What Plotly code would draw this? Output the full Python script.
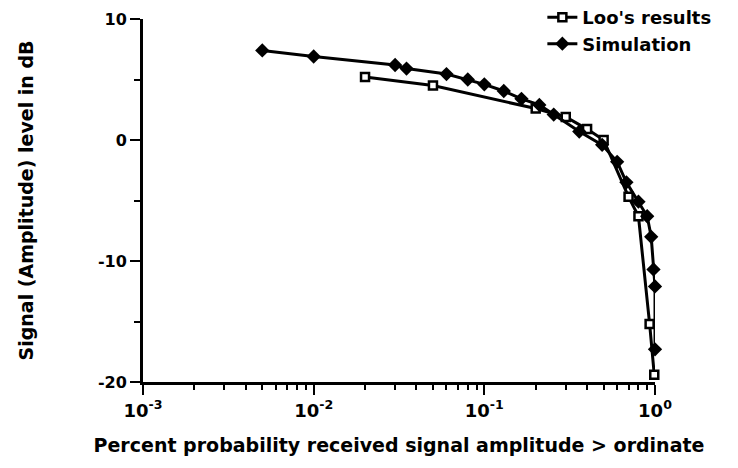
import plotly.graph_objects as go

# Loo's model: probability that the received amplitude exceeds the ordinate
loo_prob = [0.02, 0.05, 0.2, 0.3, 0.4, 0.5, 0.7, 0.8, 0.93, 0.99]
loo_db = [5.2, 4.5, 2.6, 1.9, 0.9, 0.0, -4.7, -6.3, -15.2, -19.4]

# Simulated channel
sim_prob = [0.005, 0.01, 0.03, 0.035, 0.06, 0.08, 0.1, 0.13, 0.165, 0.21,
            0.255, 0.36, 0.49, 0.6, 0.68, 0.8, 0.9, 0.95, 0.98, 1.0, 1.0]
sim_db = [7.4, 6.9, 6.2, 5.9, 5.45, 5.0, 4.6, 4.05, 3.4, 2.9,
          2.1, 0.7, -0.4, -1.8, -3.5, -5.1, -6.3, -8.0, -10.7, -12.1, -17.3]

x_tickvals = [0.001, 0.01, 0.1, 1]
x_ticktext = ["10<sup>-3</sup>", "10<sup>-2</sup>", "10<sup>-1</sup>", "10<sup>0</sup>"]
y_tickvals = [-20, -10, 0, 10]
y_ticktext = ["-20", "-10", "0", "10"]

FONT = "DejaVu Sans"

fig = go.Figure()
fig.add_trace(go.Scatter(
    x=loo_prob, y=loo_db, mode="lines+markers", name="Loo's results",
    line=dict(color="black", width=3),
    marker=dict(symbol="square", size=8, color="white",
                line=dict(color="black", width=2.5)),
    cliponaxis=False,
))
fig.add_trace(go.Scatter(
    x=sim_prob, y=sim_db, mode="lines+markers", name="Simulation",
    line=dict(color="black", width=3),
    marker=dict(symbol="diamond", size=11, color="black"),
    cliponaxis=False,
))

fig.update_layout(
    width=738, height=468,
    margin=dict(l=143, r=83, t=19, b=86, autoexpand=False),
    paper_bgcolor="white", plot_bgcolor="white",
    font=dict(family=FONT, color="black", size=16, weight="bold"),
    showlegend=True,
    legend=dict(x=0.78, xanchor="left", y=1.055, yanchor="top",
                font=dict(size=18, weight="bold"), bgcolor="rgba(0,0,0,0)",
                tracegroupgap=0, itemwidth=30),
)

fig.update_xaxes(
    type="log", range=[-3, 0],
    showgrid=False, zeroline=False,
    showline=True, linecolor="black", linewidth=3,
    tickmode="array", tickvals=x_tickvals, ticktext=x_ticktext,
    ticks="outside", ticklen=10, tickwidth=2, tickcolor="black",
    minor=dict(ticks="outside", ticklen=5, tickwidth=2, tickcolor="black",
               tickvals=[m * 10 ** e for e in (-3, -2, -1) for m in range(2, 10)]),
    tickfont=dict(size=18, weight="bold"),
    title=dict(text="Percent probability received signal amplitude > ordinate",
               font=dict(size=19, weight="bold"), standoff=20),
)
fig.update_yaxes(
    range=[-20, 10],
    showgrid=False, zeroline=False,
    showline=True, linecolor="black", linewidth=3,
    tickmode="array", tickvals=y_tickvals, ticktext=y_ticktext,
    ticks="outside", ticklen=10, tickwidth=2, tickcolor="black",
    minor=dict(ticks="outside", ticklen=6, tickwidth=2, tickcolor="black",
               tickvals=[-15, -5, 5]),
    tickfont=dict(size=16, weight="bold"),
    title=dict(text="Signal (Amplitude) level in dB",
               font=dict(size=19, weight="bold"), standoff=60),
)

fig.write_html("out.html")
